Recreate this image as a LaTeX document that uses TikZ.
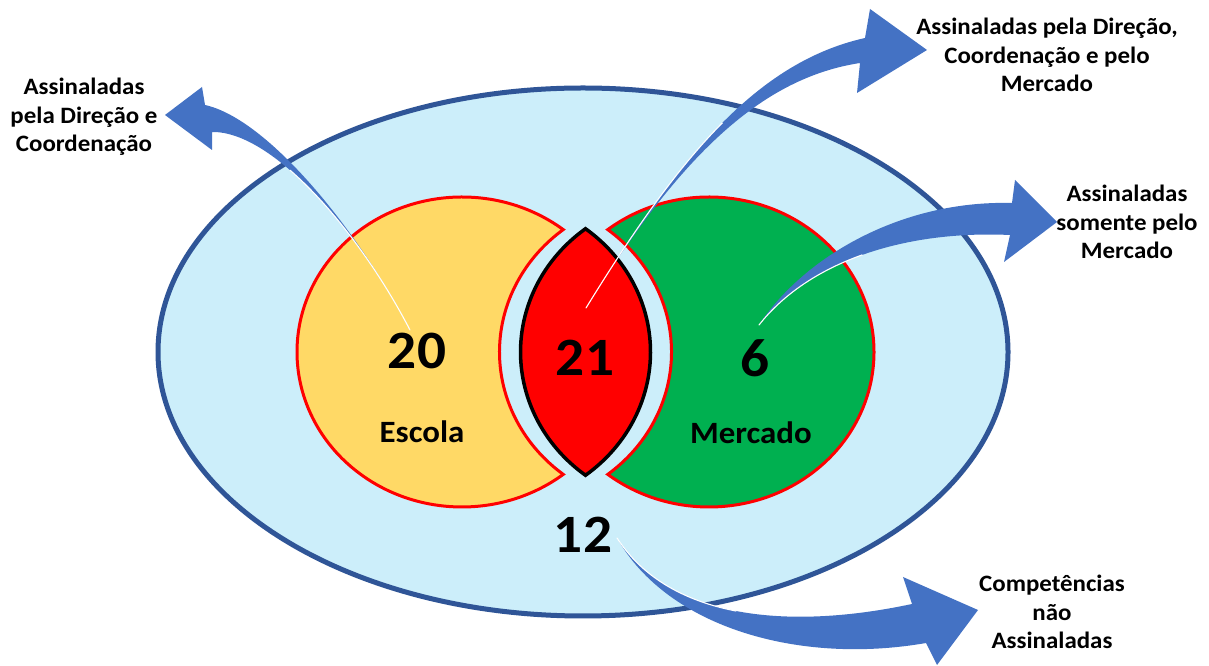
\documentclass[tikz,border=0pt]{standalone}
\usepackage{fontspec}
\newfontfamily\calfont[FakeStretch=1.06]{Carlito}
\definecolor{bgblue}{RGB}{204,238,250}
\definecolor{rimblue}{RGB}{47,85,151}
\definecolor{escyellow}{RGB}{255,217,102}
\definecolor{mktgreen}{RGB}{0,176,80}
\definecolor{arrowblue}{RGB}{68,114,196}
\begin{document}
\begin{tikzpicture}[x=1pt,y=1pt,
  lbl/.style={font=\calfont\bfseries\fontsize{23.5}{28.5}\selectfont, align=center, inner sep=0pt},
  num/.style={font=\calfont\bfseries\fontsize{54}{60}\selectfont, inner sep=0pt},
  setname/.style={font=\calfont\bfseries\fontsize{31}{36}\selectfont, inner sep=0pt},
  crescent/.style={draw=red, line width=3pt, line join=miter},
  lensbox/.style={draw=black, fill=red, line width=3.5pt, line join=miter},
  bigarrow/.style={fill=arrowblue},
  hl/.style={draw=white, line width=1.1pt, line cap=round}]
\useasboundingbox (0,0) rectangle (1209,666);
\fill[white] (0,0) rectangle (1209,666);

% universe ellipse
\draw[rimblue, fill=bgblue, line width=5pt] (583,314) ellipse [x radius=425pt, y radius=264pt];

% Escola crescent
\path[crescent, fill=escyellow] (462,314) ++(52.15:165pt and 155pt)
  arc[start angle=52.15, end angle=307.85, x radius=165pt, y radius=155pt]
  arc[start angle=232.15, end angle=127.85, x radius=165pt, y radius=155pt] -- cycle;

% Mercado crescent
\path[crescent, fill=mktgreen] (709,314) ++(127.85:165pt and 155pt)
  arc[start angle=127.85, end angle=-127.85, x radius=165pt, y radius=155pt]
  arc[start angle=-52.15, end angle=52.15, x radius=165pt, y radius=155pt] -- cycle;

% intersection lens
\path[lensbox] (485.5,314) ++(-52.69:165pt and 155pt)
  arc[start angle=-52.69, end angle=52.69, x radius=165pt, y radius=155pt]
  arc[start angle=127.31, end angle=232.69, x radius=165pt, y radius=155pt] -- cycle;

% numbers and set names
\node[num] (n20) at (417,315) {20};
\node[num] (n21) at (585,308.5) {21};
\node[num] (n6) at (755,308) {6};
\node[num] (n12) at (583,131) {12};
\node[setname] (escola) at (422,234) {Escola};
\node[setname] (mercado) at (751,233) {Mercado};

% outside labels
\node[lbl] (lblDC) at (84,549) {Assinaladas\\pela Direção e\\Coordenação};
\node[lbl] (lblDCM) at (1047,611) {Assinaladas pela Direção,\\Coordenação e pelo\\Mercado};
\node[lbl] (lblM) at (1127,444) {Assinaladas\\somente pelo\\Mercado};
\node[lbl] (lblNA) at (1052,54) {Competências\\não\\Assinaladas};

% arrow anchor points
\coordinate (s1) at (410,336);
\coordinate (s2) at (586,358);
\coordinate (s3) at (759,341);
\coordinate (s4) at (617,128);

% arrow 1: 20 -> Direcao e Coordenacao
\fill[bigarrow] (s1) .. controls (358,436) and (268,547) .. (205,561) -- (202,579) -- (165,551)
  -- (212,516) -- (212,534) .. controls (272,535) and (358,436) .. (s1) -- cycle;
\begin{scope}
  \clip (s1) circle[radius=200pt];
  \draw[hl] (212,534) .. controls (272,535) and (358,436) .. (s1);
\end{scope}

% arrow 2: 21 -> Direcao, Coordenacao e Mercado
\fill[bigarrow] (s2) .. controls (680,511) and (758,604) .. (865,628) -- (870,657) -- (927,616)
  -- (857,573) -- (860,603) .. controls (762,588) and (680,511) .. (s2) -- cycle;
\begin{scope}
  \clip (s2) circle[radius=230pt];
  \draw[hl] (865,628) .. controls (758,604) and (680,511) .. (s2);
\end{scope}

% arrow 3: 6 -> somente pelo Mercado
\fill[bigarrow] (s3) .. controls (803,408) and (900,466) .. (1012,463) -- (1015,486) -- (1057,444)
  -- (1004,404) -- (1010,431) .. controls (900,436) and (807,402) .. (s3) -- cycle;
\begin{scope}
  \clip (s3) circle[radius=125pt];
  \draw[hl] (1010,431) .. controls (900,436) and (807,402) .. (s3);
\end{scope}

% arrow 4: 12 -> nao assinaladas
\fill[bigarrow] (s4) .. controls (670,46) and (790,36) .. (912,62) -- (903,89) -- (978,56)
  -- (937,1) -- (926,23) .. controls (800,1) and (668,38) .. (s4) -- cycle;
\begin{scope}
  \clip (s4) circle[radius=140pt];
  \draw[hl] (912,62) .. controls (790,36) and (670,46) .. (s4);
\end{scope}
\end{tikzpicture}
\end{document}
